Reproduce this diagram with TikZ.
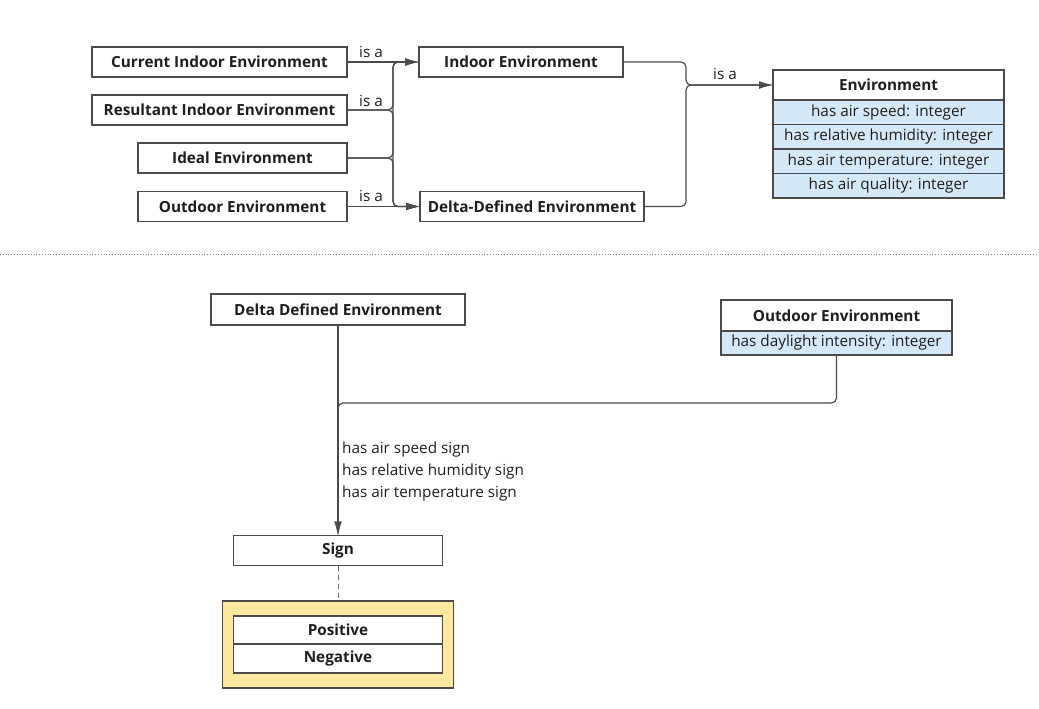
\documentclass[tikz,border=0pt]{standalone}
\usepackage{fontspec}
\setmainfont{Open Sans}
\usetikzlibrary{arrows.meta,positioning}
\definecolor{linegray}{HTML}{4A4A4A}
\definecolor{textdark}{HTML}{1E1E1E}
\definecolor{attrblue}{HTML}{D5E8F8}
\definecolor{enumyellow}{HTML}{FDE8A0}
\tikzset{
  cls/.style={draw=linegray, line width=1.1pt, fill=white, text=textdark,
    font=\fontsize{15.3}{17}\selectfont\bfseries, inner sep=0pt, outer sep=0pt, minimum height=30},
  attr/.style={draw=linegray, line width=1.1pt, fill=attrblue, text=textdark,
    font=\fontsize{15.3}{17}\selectfont, inner sep=0pt, outer sep=0pt, minimum height=24.5},
  lbl/.style={text=textdark, font=\fontsize{15.3}{17}\selectfont, inner sep=1pt},
  link/.style={draw=linegray, line width=1.2pt, rounded corners=5},
  isa/.style={-{Latex[length=14,width=7.5]}},
}
\begin{document}
\begin{tikzpicture}[x=1pt,y=-1pt]
  \useasboundingbox (0,0) rectangle (1039,709);
  % upper part: the hierarchy
  \node[cls, minimum width=255] (cur) at (219.5,62) {Current Indoor Environment};
  \node[cls, minimum width=255] (res) at (219.5,110) {Resultant Indoor Environment};
  \node[cls, minimum width=209] (ideal) at (242.5,158) {Ideal Environment};
  \node[cls, minimum width=209] (out) at (242.5,206.5) {Outdoor Environment};
  \node[cls, minimum width=204] (ind) at (521,62) {Indoor Environment};
  \node[cls, minimum width=224] (delta) at (532,206.5) {Delta-Defined Environment};
  \node[cls, minimum width=231] (env) at (888.5,85) {Environment};
  \node[attr, minimum width=231, below=0pt of env] (speed) {has air speed: integer};
  \node[attr, minimum width=231, below=0pt of speed] (humid) {has relative humidity: integer};
  \node[attr, minimum width=231, below=0pt of humid] (temp) {has air temperature: integer};
  \node[attr, minimum width=231, below=0pt of temp] (qual) {has air quality: integer};
  \coordinate (busL) at (393,0);
  \coordinate (busR) at (686,0);
  \draw[link, isa] (cur) -- (ind);
  \draw[link, isa] (out) -- (delta);
  \foreach \src in {res,ideal}{
    \draw[link, isa] (\src.east) -| (busL |- ind.west) -- (ind.west);
    \draw[link, isa] (\src.east) -| (busL |- delta.west) -- (delta.west);
  }
  \draw[link, isa] (ind.east) -| (busR |- env.west) -- (env.west);
  \draw[link, isa] (delta.east) -| (busR |- env.west) -- (env.west);
  \node[lbl] (isa1) at (371,52) {is a};
  \node[lbl] (isa2) at (371,101) {is a};
  \node[lbl] (isa3) at (371,196) {is a};
  \node[lbl] (isa4) at (725,74) {is a};
  % separator
  \draw[linegray!70, line width=0.8pt, dash pattern=on 0.8pt off 2pt] (0,254) -- (1039,254);
  % lower part: the signs
  \node[cls, minimum width=254, minimum height=31] (dde) at (338,309.5) {Delta Defined Environment};
  \node[cls, minimum width=231, minimum height=31] (outc) at (836.5,315.5) {Outdoor Environment};
  \node[attr, minimum width=231, minimum height=24, below=0pt of outc] (day) {has daylight intensity: integer};
  \node[cls, minimum width=209, minimum height=30] (sign) at (338,550.5) {Sign};
  \node[draw=linegray, fill=enumyellow, line width=1.2pt, minimum width=231, minimum height=87,
    inner sep=0pt, outer sep=0pt] (enum) at (338,644.5) {};
  \node[cls, minimum width=209, minimum height=28] (pos) at (338,630) {Positive};
  \node[cls, minimum width=209, minimum height=29, below=0pt of pos] (neg) {Negative};
  \coordinate (turn) at (338,403);
  \draw[link, isa] (dde.south) -- (sign.north);
  \draw[link, isa] (day.south) |- (turn) -- (sign.north);
  \draw[linegray!85, line width=1pt, dash pattern=on 5pt off 4pt] (sign.south) -- (enum.north);
  \node[lbl, anchor=west, align=left, font=\fontsize{15.3}{22}\selectfont] (props) at (341,472)
    {has air speed sign\\has relative humidity sign\\has air temperature sign};
\end{tikzpicture}
\end{document}
